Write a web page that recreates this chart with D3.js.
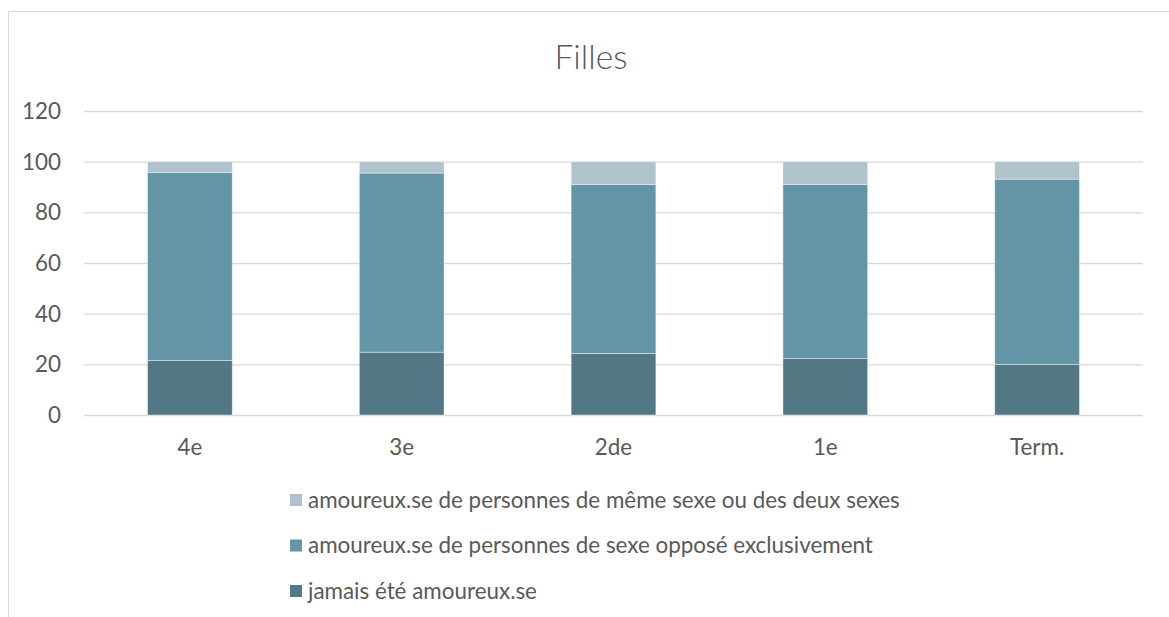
<!DOCTYPE html>
<html><head><meta charset="utf-8">
<script src="https://cdn.jsdelivr.net/npm/d3@7"></script>
<style>body{margin:0;background:#fff;}svg{display:block;}</style>
</head><body>
<svg id="c" width="1169" height="617"></svg>
<script>
const categories = ["4e", "3e", "2de", "1e", "Term."];
const jamais = [21.5, 24.8, 24.3, 22.3, 20.0];
const oppose = [74.3, 70.7, 66.7, 68.7, 73.1];
const meme = [4.2, 4.5, 9.0, 9.0, 6.9];
const yTicks = [0, 20, 40, 60, 80, 100, 120];
const seriesNames = [
  "jamais été amoureux.se",
  "amoureux.se de personnes de sexe opposé exclusivement",
  "amoureux.se de personnes de même sexe ou des deux sexes"
];
const colors = ["#527885", "#6495a6", "#b0c2cc"];
const title = "Filles";

const svg = d3.select("#c");
const font = "Lato, 'Open Sans', sans-serif";

function fitSize(txt, target, base, weight) {
  const t = svg.append("text").attr("font-family", font).attr("font-size", base)
    .attr("font-weight", weight || 400).text(txt);
  const w = t.node().getComputedTextLength();
  t.remove();
  return base * target / w;
}
const fs = fitSize(seriesNames[2], 592, 20);
const tfs = fitSize(title, 73, 28, 300);

// frame
svg.append("path").attr("d","M8.5,617 V11.5 H1169").attr("fill","none").attr("stroke","#d9d9d9").attr("stroke-width",1);

const x = d3.scaleBand().domain(categories).range([84, 1143]).paddingInner(0.6).paddingOuter(0.3);
const y = d3.scaleLinear().domain([0, 120]).range([415, 111]);

// gridlines
svg.append("g").selectAll("line").data(yTicks).join("line")
  .attr("x1", 84).attr("x2", 1143)
  .attr("y1", d => y(d) + 0.5).attr("y2", d => y(d) + 0.5)
  .attr("stroke", "#d9d9d9").attr("stroke-width", 1.3);

// y labels
svg.append("g").selectAll("text").data(yTicks).join("text")
  .attr("x", 61).attr("y", d => y(d)).attr("dy", "0.35em")
  .attr("text-anchor", "end").attr("font-family", font).attr("font-size", fs)
  .attr("fill", "#595959").text(d => d);

// stack
const rows = categories.map((c, i) => ({cat: c, s0: jamais[i], s1: oppose[i], s2: meme[i]}));
const stack = d3.stack().keys(["s0", "s1", "s2"])(rows);
svg.append("g").selectAll("g").data(stack).join("g")
  .attr("fill", (d, i) => colors[i])
  .selectAll("rect").data(d => d).join("rect")
  .attr("x", d => x(d.data.cat))
  .attr("width", x.bandwidth())
  .attr("y", d => y(d[1]))
  .attr("height", d => y(d[0]) - y(d[1]))
  .attr("stroke", "#ffffff").attr("stroke-opacity", 0.5).attr("stroke-width", 0.8);

// x labels
svg.append("g").selectAll("text").data(categories).join("text")
  .attr("x", d => x(d) + x.bandwidth() / 2).attr("y", 447).attr("dy", "0.35em")
  .attr("text-anchor", "middle").attr("font-family", font).attr("font-size", fs)
  .attr("fill", "#595959").text(d => d);

// title
svg.append("text").attr("x", 591).attr("y", 57).attr("dy", "0.35em")
  .attr("text-anchor", "middle").attr("font-family", font).attr("font-size", tfs)
  .attr("font-weight", 300).attr("fill", "#595959").text(title);

// legend (top to bottom: même, opposé, jamais)
const legOrder = [2, 1, 0];
const lg = svg.append("g").selectAll("g").data(legOrder).join("g")
  .attr("transform", (d, i) => `translate(290, ${500 + i * 45.5})`);
lg.append("rect").attr("x", 0).attr("y", -6).attr("width", 12).attr("height", 12)
  .attr("fill", d => colors[d]);
lg.append("text").attr("x", 18).attr("y", 0).attr("dy", "0.35em")
  .attr("font-family", font).attr("font-size", fs).attr("fill", "#595959")
  .text(d => seriesNames[d]);
</script>
</body></html>
